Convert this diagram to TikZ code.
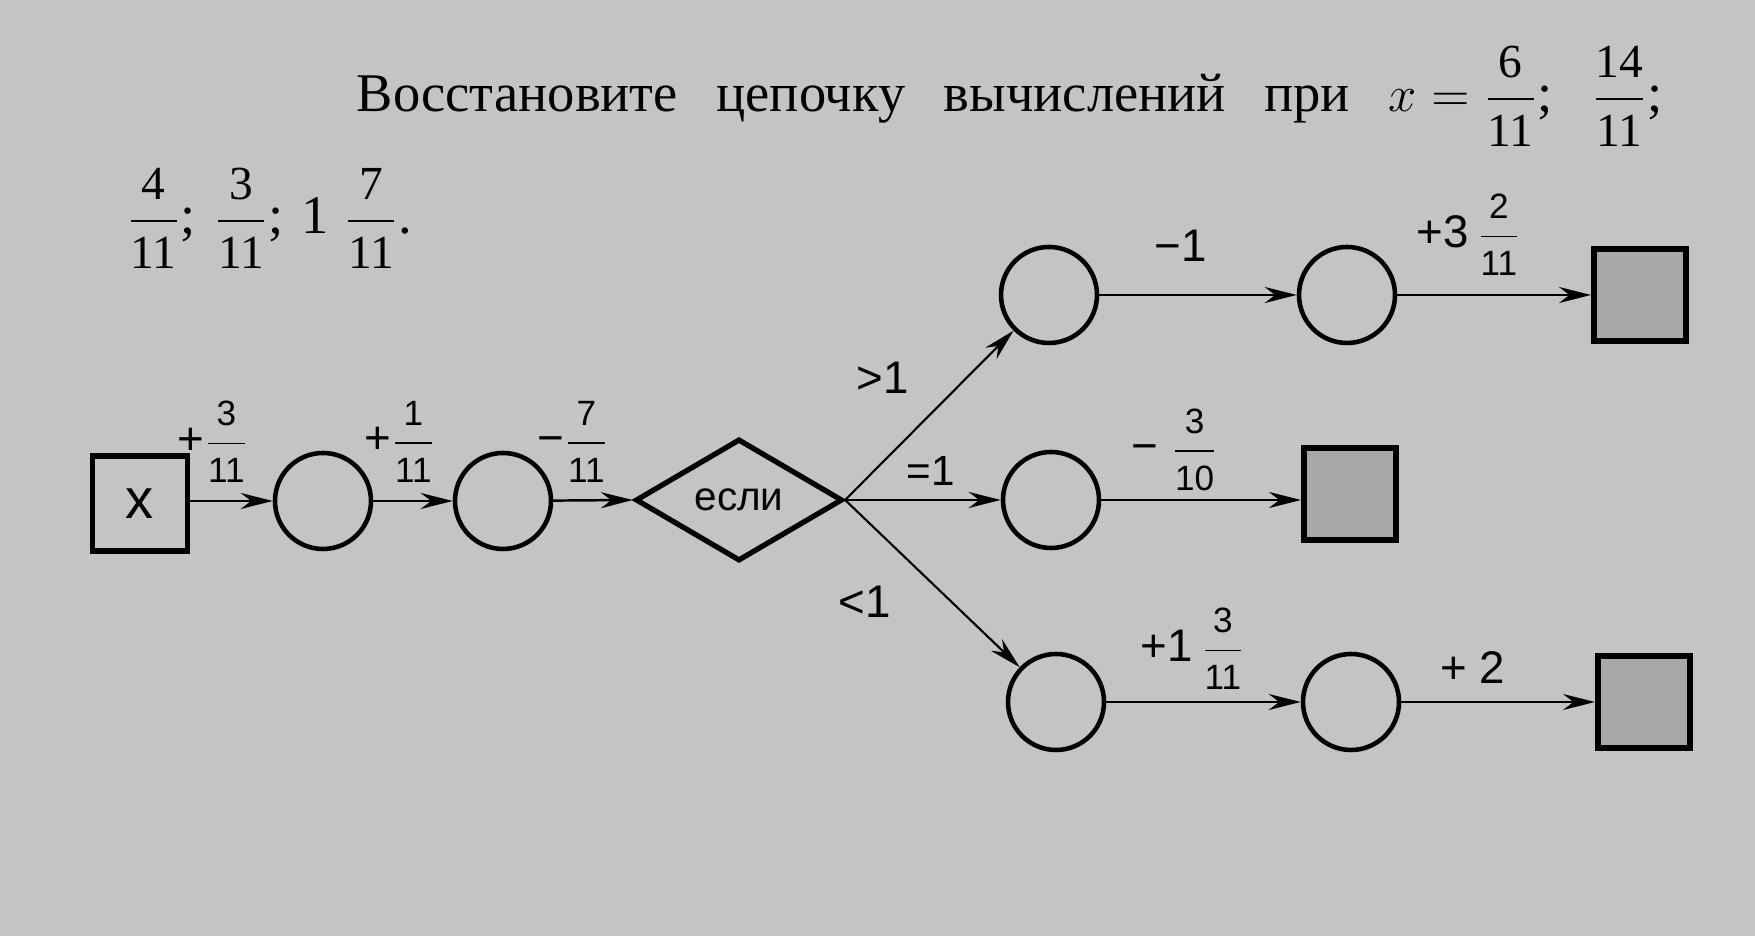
\documentclass[tikz,border=0pt]{standalone}
\usepackage{amsmath}
\usepackage{fontspec}
\setmainfont{Liberation Serif}
\setsansfont{Liberation Sans}
\usepackage{tikz}
\usetikzlibrary{arrows.meta,shapes.geometric}
\usepackage{xcolor}
\definecolor{paper}{RGB}{196,196,196}
\definecolor{shade}{RGB}{168,168,168}
% fraction with digits in the surrounding text font
\newcommand{\bfr}[2]{\ensuremath{\dfrac{\text{\fontsize{13.5}{15}\selectfont #1}}{\text{\fontsize{13.5}{15}\selectfont #2}}}}
\newcommand{\sfr}[2]{\ensuremath{\dfrac{\text{\fontsize{10}{12}\selectfont #1}}{\text{\fontsize{10}{12}\selectfont #2}}}}

\begin{document}
\begin{tikzpicture}[>={Stealth[length=3.2mm,width=1.6mm]},line cap=round,
  font=\sffamily\fontsize{13}{15}\selectfont,
  val/.style={circle,draw,line width=1.3pt,minimum size=9.6mm,inner sep=0pt},
  res/.style={rectangle,draw,line width=1.7pt,fill=shade,minimum size=9.2mm,inner sep=0pt},
  lbl/.style={inner sep=0pt}]
\fill[paper] (0,0) rectangle (17.55,9.36);
\useasboundingbox (0,0) rectangle (17.55,9.36);
% task text
\node[anchor=base west,inner sep=0pt,font=\rmfamily\fontsize{15.5}{18}\selectfont] (t1) at (3.56,8.24)
  {\makebox[13.06cm][s]{Восстановите цепочку вычислений при \mbox{$x=\bfr{6}{11}$;} \bfr{14}{11};}};
\node[anchor=west,inner sep=0pt,font=\rmfamily\fontsize{15.5}{18}\selectfont] (t2) at (1.26,7.18)
  {\bfr{4}{11};\,\,\bfr{3}{11};\,\,1\;\bfr{7}{11}.};
% chain
\node[draw,line width=1.7pt,minimum size=9.5mm,inner sep=0pt,font=\sffamily\fontsize{16}{18}\selectfont] (xin) at (1.40,4.32) {x};
\node[val] (a1) at (3.23,4.35) {};
\node[val] (a2) at (5.03,4.35) {};
\node[diamond,draw,line width=1.5pt,minimum width=2.07cm,minimum height=1.22cm,inner sep=0pt,font=\sffamily\fontsize{11.5}{13}\selectfont] (if) at (7.39,4.36) {если};
\node[val] (u1) at (10.49,6.41) {};
\node[val] (u2) at (13.47,6.41) {};
\node[res] (u3) at (16.40,6.41) {};
\node[val] (m1) at (10.51,4.36) {};
\node[res] (m2) at (13.50,4.42) {};
\node[val] (d1) at (10.56,2.34) {};
\node[val] (d2) at (13.51,2.34) {};
\node[res] (d3) at (16.44,2.34) {};
% connectors
\draw[->,line width=0.7pt] (xin.east |- a1) -- (a1);
\draw[->,line width=0.7pt] (a1) -- (a2);
\draw[->,line width=0.7pt] (a2) -- (if.west);
\draw[->,line width=0.6pt] (if.east) -- (u1);
\draw[->,line width=0.7pt] (if.east) -- (m1);
\draw[->,line width=0.6pt] (if.east) -- (d1);
\draw[->,line width=0.7pt] (u1) -- (u2);
\draw[->,line width=0.7pt] (u2) -- (u3);
\draw[->,line width=0.7pt] (m1) -- (m1 -| m2.west);
\draw[->,line width=0.7pt] (d1) -- (d2);
\draw[->,line width=0.7pt] (d2) -- (d3);
% labels
\node[lbl] (k1) at (2.13,4.94) {+\sfr{3}{11}};
\node[lbl] (k2) at (4.00,4.94) {+\sfr{1}{11}};
\node[lbl] (k3) at (5.73,4.94) {−\sfr{7}{11}};
\node[lbl] (g1) at (8.83,5.58) {>1};
\node[lbl,font=\sffamily\fontsize{12}{14}\selectfont] (g2) at (9.31,4.65) {=1};
\node[lbl] (g3) at (8.65,3.34) {<1};
\node[lbl] (k4) at (11.81,6.90) {−1};
\node[lbl] (k5) at (14.69,7.01) {+3\,\sfr{2}{11}};
\node[lbl] (k6) at (11.75,4.86) {−\;\sfr{3}{10}};
\node[lbl] (k7) at (11.93,2.87) {+1\,\sfr{3}{11}};
\node[lbl] (k8) at (14.73,2.68) {+ 2};
\end{tikzpicture}
\end{document}
